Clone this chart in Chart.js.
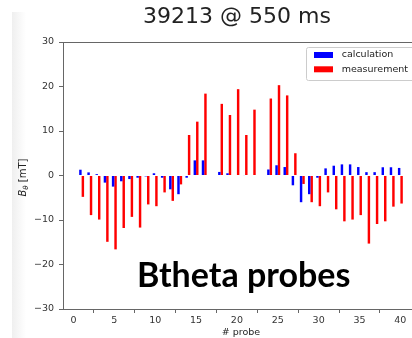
<!DOCTYPE html>
<html>
<head>
<meta charset="utf-8">
<script src="https://cdn.jsdelivr.net/npm/chart.js@4"></script>
<style>
  html, body { margin: 0; padding: 0; background: #fff; overflow: hidden; }
  #wrap { position: relative; width: 412px; height: 338px; overflow: hidden; }
  #shade { position: absolute; left: 12px; top: 12px; width: 14px; height: 326px;
           background: linear-gradient(to right, #efefef, #fff); }
  #box { position: absolute; left: 0; top: 0; width: 425px; height: 338px; }
</style>
</head>
<body>
<div id="wrap">
  <div id="shade"></div>
  <div id="box"><canvas id="chart"></canvas></div>
</div>
<script>
// probe numbers and B_theta values [mT]
const probes = [1, 2, 3, 4, 5, 6, 7, 8, 9, 10,
  11, 12, 13, 14, 15, 16, 17, 18, 19, 20,
  21, 22, 23, 24, 25, 26, 27, 28, 29, 30,
  31, 32, 33, 34, 35, 36, 37, 38, 39, 40];
const calculation = [1.3, 0.7, 0.3, -1.6, -2.5, -1.3, -0.8, -0.5, -0.2, 0.5,
  -0.5, -3.1, -4.2, -0.5, 3.4, 3.4, null, 0.8, 0.5, 0,
  0.1, 0, null, 1.35, 2.3, 1.9, -2.2, -6.0, -4.2, -0.5,
  1.6, 2.2, 2.5, 2.5, 1.9, 0.75, 0.75, 1.85, 1.85, 1.7];
const measurement = [-4.8, -8.9, -9.9, -14.9, -16.6, -11.8, -9.3, -11.7, -6.5, -6.9,
  -3.8, -5.7, -2.0, 9.1, 12.1, 18.4, null, 16.1, 13.6, 19.4,
  9.1, 14.8, null, 17.3, 20.3, 18.0, 5.0, -1.9, -6.0, -6.9,
  -3.8, -7.6, -10.3, -9.9, -8.9, -15.3, -10.9, -10.3, -7.0, -6.3];

const seriesNames = ['calculation', 'measurement'];
const seriesColors = ['#0000ff', '#ff0000'];
const xTicks = [0, 5, 10, 15, 20, 25, 30, 35, 40];
const yTicks = [-30, -20, -10, 0, 10, 20, 30];
const titleText = '39213 @ 550 ms';
const xTitle = '# probe';
const noteText = 'Btheta probes';

const tickFont = { family: 'DejaVu Sans', size: 9.5 };
const minus = v => String(v).replace('-', '\u2212');

// frame, title, y label, legend and the overlay note
const decor = {
  id: 'decor',
  afterDraw(chart) {
    const { ctx, chartArea: a } = chart;
    ctx.save();

    ctx.strokeStyle = '#666';
    ctx.lineWidth = 1;
    ctx.strokeRect(a.left + 0.5, a.top + 0.5, a.right - a.left, a.bottom - a.top);

    ctx.fillStyle = '#222';
    ctx.font = '22px "DejaVu Sans"';
    ctx.textAlign = 'center';
    ctx.textBaseline = 'alphabetic';
    ctx.fillText(titleText, 237, 23);

    // y label: B with subscript theta
    ctx.save();
    ctx.translate(22.5, (a.top + a.bottom) / 2 + 2);
    ctx.rotate(-Math.PI / 2);
    ctx.textAlign = 'left';
    const fB = 'italic 10px "DejaVu Sans"', fT = 'italic 7px "DejaVu Sans"', fU = '10px "DejaVu Sans"';
    ctx.font = fB; const wB = ctx.measureText('B').width;
    ctx.font = fT; const wT = ctx.measureText('\u03b8').width;
    ctx.font = fU; const wU = ctx.measureText(' [mT]').width;
    let x0 = -(wB + wT + wU) / 2;
    ctx.font = fB; ctx.fillText('B', x0, 3.5); x0 += wB;
    ctx.font = fT; ctx.fillText('\u03b8', x0, 5.5); x0 += wT;
    ctx.font = fU; ctx.fillText(' [mT]', x0, 3.5);
    ctx.restore();

    // legend box in the upper right
    const lw = 108, lh = 33;
    const lx = a.right - 5 - lw, ly = a.top + 5;
    ctx.fillStyle = 'rgba(255,255,255,0.8)';
    ctx.strokeStyle = '#cccccc';
    ctx.beginPath();
    ctx.roundRect(lx + 0.5, ly + 0.5, lw, lh, 2);
    ctx.fill();
    ctx.stroke();
    ctx.font = '9.5px "DejaVu Sans"';
    ctx.textAlign = 'left';
    ctx.textBaseline = 'middle';
    seriesNames.forEach((name, i) => {
      const cy = ly + 8 + i * 14.3;
      ctx.fillStyle = seriesColors[i];
      ctx.fillRect(lx + 8, cy - 3, 19, 6);
      ctx.fillStyle = '#222';
      ctx.fillText(name, lx + 35.7, cy);
    });

    ctx.fillStyle = '#000';
    ctx.font = 'bold 34px Lato';
    ctx.textBaseline = 'alphabetic';
    ctx.fillText(noteText, 137, 287);
    ctx.restore();
  }
};

new Chart(document.getElementById('chart'), {
  type: 'bar',
  data: {
    datasets: [
      { label: seriesNames[0], data: probes.map((p, i) => ({ x: p, y: calculation[i] })),
        backgroundColor: seriesColors[0] },
      { label: seriesNames[1], data: probes.map((p, i) => ({ x: p, y: measurement[i] })),
        backgroundColor: seriesColors[1] }
    ]
  },
  options: {
    responsive: true,
    maintainAspectRatio: false,
    animation: false,
    layout: { padding: { top: 42, right: 6, left: 0, bottom: 0 } },
    datasets: { bar: { categoryPercentage: 0.6, barPercentage: 1.0, borderWidth: 0 } },
    plugins: { legend: { display: false }, tooltip: { enabled: false } },
    scales: {
      x: {
        type: 'linear', min: -1.28, max: 42.28, offset: false,
        afterBuildTicks: s => { s.ticks = xTicks.map(v => ({ value: v })); },
        afterFit: s => { s.height = 29; },
        grid: { drawOnChartArea: false, tickLength: 4, tickColor: '#666' },
        border: { display: false },
        ticks: { color: '#333', font: tickFont, padding: 2, maxRotation: 0, autoSkip: false },
        title: { display: true, text: xTitle, color: '#222',
                 font: { family: 'DejaVu Sans', size: 9.5 }, padding: 0 }
      },
      y: {
        min: -30, max: 30,
        afterBuildTicks: s => { s.ticks = yTicks.map(v => ({ value: v })); },
        afterFit: s => { s.width = 63; },
        grid: { drawOnChartArea: false, tickLength: 4, tickColor: '#666' },
        border: { display: false },
        ticks: { color: '#333', font: tickFont, padding: 5, callback: minus }
      }
    }
  },
  plugins: [decor]
});
</script>
</body>
</html>
